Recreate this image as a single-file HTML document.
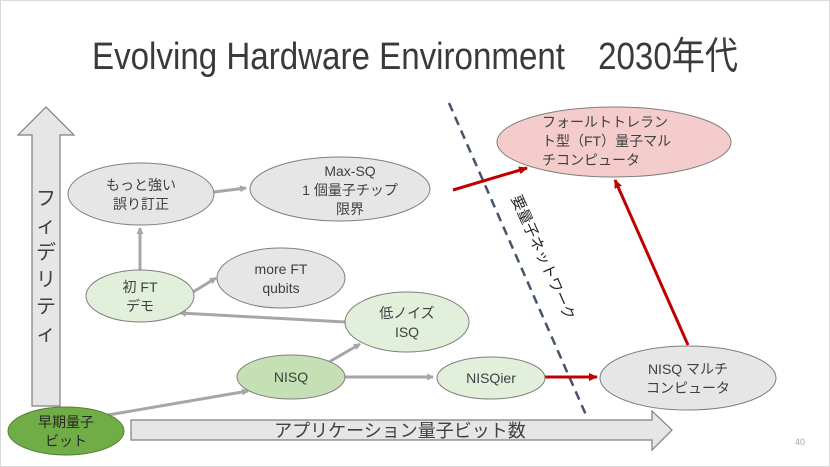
<!DOCTYPE html>
<html><head><meta charset="utf-8"><style>
body{margin:0;background:#fff}
svg{display:block}
text{font-family:"Liberation Sans","Noto Sans CJK JP",sans-serif;fill:#404040}
</style></head><body>
<svg width="830" height="467" viewBox="0 0 830 467" xmlns="http://www.w3.org/2000/svg">
<defs>
<marker id="ga" markerWidth="8" markerHeight="8" refX="6" refY="4" orient="auto" markerUnits="userSpaceOnUse"><path d="M0,0.5 L7,4 L0,7.5 Z" fill="#a6a6a6"/></marker>
<marker id="ra" markerWidth="10" markerHeight="10" refX="8" refY="5" orient="auto" markerUnits="userSpaceOnUse"><path d="M0,1 L9,5 L0,9 Z" fill="#c00000"/></marker>
</defs>
<rect x="0.5" y="0.5" width="829" height="466" fill="#fff" stroke="#d9d9d9"/>
<text x="92" y="69" font-size="38" textLength="646" lengthAdjust="spacingAndGlyphs" style="fill:#3a3a3a">Evolving Hardware Environment　2030年代</text>

<path d="M32,406 L32,135 L18,135 L46,107 L74,135 L60,135 L60,406 Z" fill="#e7e6e6" stroke="#7f7f7f" stroke-width="1.2"/>
<text font-size="20" text-anchor="middle"><tspan x="46" y="205">フ</tspan><tspan x="46" y="232">ィ</tspan><tspan x="46" y="259">デ</tspan><tspan x="46" y="286">リ</tspan><tspan x="46" y="313">テ</tspan><tspan x="46" y="340">ィ</tspan></text>
<path d="M131,420 L652,420 L652,411 L672,430 L652,450 L652,440 L131,440 Z" fill="#e7e6e6" stroke="#7f7f7f" stroke-width="1.2"/>
<text x="400" y="437" font-size="18" text-anchor="middle">アプリケーション量子ビット数</text>

<line x1="449" y1="103" x2="586" y2="415" stroke="#44546a" stroke-width="2.5" stroke-dasharray="9,6"/>
<text transform="translate(511,198) rotate(66)" font-size="15" style="fill:#262626">要量子ネットワーク</text>

<g stroke="#a6a6a6" stroke-width="3" fill="none">
<line x1="214" y1="192" x2="246" y2="188" marker-end="url(#ga)"/>
<line x1="140" y1="270" x2="140" y2="228" marker-end="url(#ga)"/>
<line x1="193" y1="292" x2="216" y2="278" marker-end="url(#ga)"/>
<line x1="345" y1="322" x2="180" y2="313" marker-end="url(#ga)"/>
<line x1="329" y1="362" x2="360" y2="344" marker-end="url(#ga)"/>
<line x1="345" y1="377" x2="433" y2="377" marker-end="url(#ga)"/>
<line x1="108" y1="415" x2="248" y2="391" marker-end="url(#ga)"/>
</g>
<g stroke="#c00000" stroke-width="3" fill="none">
<line x1="453" y1="190" x2="527" y2="168" marker-end="url(#ra)"/>
<line x1="545" y1="377" x2="597" y2="377" marker-end="url(#ra)"/>
<line x1="688" y1="345" x2="615" y2="180" marker-end="url(#ra)"/>
</g>

<g stroke="#7f7f7f" stroke-width="1">
<ellipse cx="141" cy="194" rx="73" ry="31" fill="#e7e6e6"/>
<ellipse cx="340" cy="189" rx="90" ry="32" fill="#e7e6e6"/>
<ellipse cx="140" cy="296" rx="54" ry="26" fill="#e2efda"/>
<ellipse cx="281" cy="278" rx="64" ry="30" fill="#e7e6e6"/>
<ellipse cx="407" cy="322" rx="62" ry="30" fill="#e2efda"/>
<ellipse cx="291" cy="377" rx="54" ry="22" fill="#c5e0b4"/>
<ellipse cx="66" cy="431" rx="58" ry="24" fill="#70ad47" stroke="#507e32"/>
<ellipse cx="491" cy="378" rx="54" ry="21" fill="#e2efda"/>
<ellipse cx="688" cy="378" rx="88" ry="32" fill="#e7e6e6"/>
<ellipse cx="614" cy="142" rx="117" ry="35" fill="#f4cccc"/>
</g>
<g font-size="14" text-anchor="middle">
<text x="141" y="190">もっと強い</text><text x="141" y="209">誤り訂正</text>
<text x="350" y="176">Max-SQ</text><text x="350" y="195">1 個量子チップ</text><text x="350" y="214">限界</text>
<text x="140" y="292">初 FT</text><text x="140" y="311">デモ</text>
<text x="281" y="274">more FT</text><text x="281" y="293">qubits</text>
<text x="407" y="318">低ノイズ</text><text x="407" y="337">ISQ</text>
<text x="291" y="382">NISQ</text>
<text x="66" y="427" style="fill:#262626">早期量子</text><text x="66" y="446" style="fill:#262626">ビット</text>
<text x="491" y="383">NISQier</text>
<text x="688" y="374">NISQ マルチ</text><text x="688" y="393">コンピュータ</text>
</g>
<g font-size="14">
<text x="542" y="127">フォールトトレラン</text>
<text x="542" y="146">ト型（FT）量子マル</text>
<text x="542" y="165">チコンピュータ</text>
</g>
<text x="805" y="445" font-size="9" text-anchor="end" style="fill:#a6a6a6">40</text>
</svg>
</body></html>
